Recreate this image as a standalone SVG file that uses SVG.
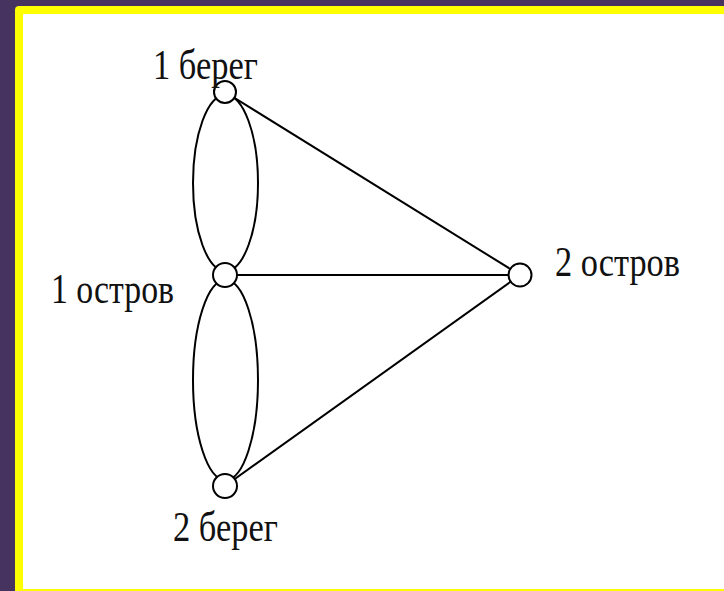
<svg xmlns="http://www.w3.org/2000/svg" width="724" height="591" viewBox="0 0 724 591">
<style>
.edge{fill:none;stroke:#000;stroke-width:2}
.node{fill:#fff;stroke:#000;stroke-width:2}
.lbl{font-family:"Liberation Serif","Times New Roman",serif;font-size:42px;fill:#111}
</style>
<rect x="0" y="0" width="724" height="591" fill="#46335f"/>
<rect x="15" y="6" width="740" height="600" rx="4" fill="#ffff00"/>
<rect x="23" y="14" width="720" height="575" fill="#ffffff"/>
<g id="connectors">
<ellipse class="edge" cx="225.5" cy="183" rx="32.5" ry="88"/>
<ellipse class="edge" cx="225.5" cy="380" rx="32.5" ry="100"/>
<line class="edge" x1="225" y1="92" x2="520" y2="275"/>
<line class="edge" x1="225" y1="275" x2="520" y2="275"/>
<line class="edge" x1="225" y1="486" x2="520" y2="275"/>
</g>
<g id="bereg1">
<circle class="node" cx="225" cy="92" r="11"/>
<text class="lbl" x="153" y="79" textLength="105" lengthAdjust="spacingAndGlyphs">1 берег</text>
</g>
<g id="ostrov1">
<circle class="node" cx="225" cy="275" r="12"/>
<text class="lbl" x="51" y="303" textLength="123" lengthAdjust="spacingAndGlyphs">1 остров</text>
</g>
<g id="ostrov2">
<circle class="node" cx="520" cy="275" r="11.5"/>
<text class="lbl" x="555" y="276" textLength="125" lengthAdjust="spacingAndGlyphs">2 остров</text>
</g>
<g id="bereg2">
<circle class="node" cx="225" cy="486" r="12"/>
<text class="lbl" x="173" y="541" textLength="105" lengthAdjust="spacingAndGlyphs">2 берег</text>
</g>
</svg>
